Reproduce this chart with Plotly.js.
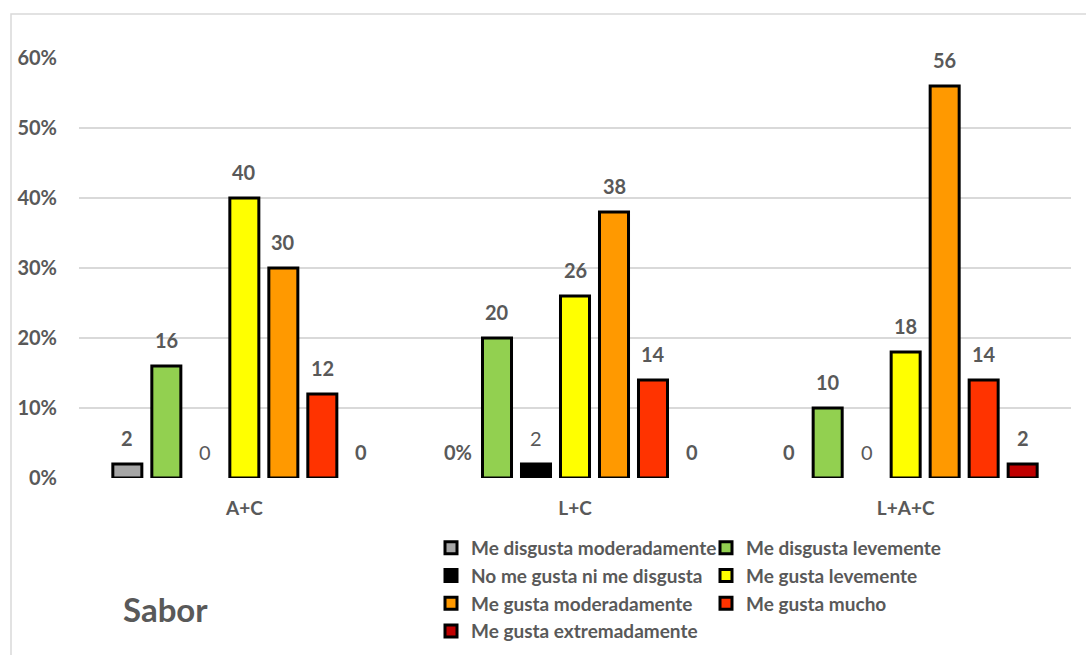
<!DOCTYPE html>
<html>
<head>
<meta charset="utf-8">
<script src="https://cdn.plot.ly/plotly-3.0.1.min.js"></script>
<style>html,body{margin:0;padding:0;background:#fff;}#chart{width:1086px;height:655px;}</style>
</head>
<body>
<div id="chart"></div>
<script>
// ---- data ----
const categories = ["A+C", "L+C", "L+A+C"];
const seriesNames = [
  "Me disgusta moderadamente",
  "Me disgusta levemente",
  "No me gusta ni me disgusta",
  "Me gusta levemente",
  "Me gusta moderadamente",
  "Me gusta mucho",
  "Me gusta extremadamente"
];
const disgustaModeradamente = [2, 0, 0];
const disgustaLevemente = [16, 20, 10];
const niGustaNiDisgusta = [0, 2, 0];
const gustaLevemente = [40, 26, 18];
const gustaModeradamente = [30, 38, 56];
const gustaMucho = [12, 14, 14];
const gustaExtremadamente = [0, 0, 2];
const yTicks = [0, 10, 20, 30, 40, 50, 60];
const yTickLabels = ["0%", "10%", "20%", "30%", "40%", "50%", "60%"];
// label text overrides (as printed in the reference)
const labelOverrides = {"0-1": "0%"};

// ---- styling ----
const seriesValues = [disgustaModeradamente, disgustaLevemente, niGustaNiDisgusta,
  gustaLevemente, gustaModeradamente, gustaMucho, gustaExtremadamente];
const colors = ["#A6A6A6", "#92D050", "#000000", "#FFFF00", "#FF9900", "#FF3300", "#C00000"];
const legendOf = ["legend", "legend2", "legend", "legend2", "legend", "legend2", "legend"];
const boldLabel = [true, true, false, true, true, true, true];
const FONT = "Lato, 'Open Sans', sans-serif";
const TXT = "#595959";
const BARGAP = 0.1744;
const slot = (1 - BARGAP) / seriesNames.length;

const traces = seriesNames.map((name, s) => ({
  type: "bar",
  name: name,
  x: categories,
  // zero-valued bars are not drawn in the reference (only their labels)
  y: seriesValues[s].map(v => (v === 0 ? null : v)),
  marker: {color: colors[s], line: {color: "#000000", width: 3}},
  legend: legendOf[s],
  hoverinfo: "skip"
}));

const annotations = [];
seriesValues.forEach((vals, s) => {
  vals.forEach((v, i) => {
    const key = s + "-" + i;
    annotations.push({
      xref: "x", yref: "y",
      x: i + (s - (seriesNames.length - 1) / 2) * slot,
      y: v,
      text: labelOverrides[key] !== undefined ? labelOverrides[key] : String(v),
      showarrow: false,
      yanchor: "middle",
      yshift: 26,
      font: {family: FONT, size: 20, color: TXT, weight: boldLabel[s] ? 700 : 400}
    });
  });
});

const layout = {
  width: 1086, height: 655,
  paper_bgcolor: "#ffffff", plot_bgcolor: "#ffffff",
  margin: {l: 79, r: 15, t: 58, b: 177, autoexpand: false},
  barmode: "group",
  bargap: BARGAP,
  bargroupgap: 0.256,
  title: {
    text: "Sabor",
    font: {family: FONT, size: 33, color: TXT, weight: 700},
    x: 123 / 1086, xanchor: "left", xref: "container",
    y: 1 - 610 / 655, yanchor: "middle", yref: "container"
  },
  xaxis: {
    type: "category",
    showgrid: false, zeroline: false, showline: false,
    ticks: "",
    ticklabelstandoff: 17,
    tickfont: {family: FONT, size: 19, color: TXT, weight: 700},
    fixedrange: true
  },
  yaxis: {
    range: [0, 60],
    tickmode: "array",
    tickvals: yTicks,
    ticktext: yTickLabels,
    showgrid: true, gridcolor: "#D9D9D9", gridwidth: 1.5,
    zeroline: false, showline: false,
    ticks: "",
    ticklabelstandoff: 21,
    tickfont: {family: FONT, size: 20, color: TXT, weight: 700},
    fixedrange: true
  },
  showlegend: true,
  legend: {
    orientation: "v",
    x: (431 - 79) / 992, xanchor: "left",
    y: (478 - 529) / 420, yanchor: "top",
    font: {family: FONT, size: 19, color: TXT, weight: 700},
    bgcolor: "rgba(0,0,0,0)",
    traceorder: "normal"
  },
  legend2: {
    orientation: "v",
    x: (706 - 79) / 992, xanchor: "left",
    y: (478 - 529) / 420, yanchor: "top",
    font: {family: FONT, size: 19, color: TXT, weight: 700},
    bgcolor: "rgba(0,0,0,0)",
    traceorder: "normal"
  },
  annotations: annotations,
  shapes: [{
    type: "rect", xref: "paper", yref: "paper",
    x0: (11 - 79) / 992, x1: (1100 - 79) / 992,
    y0: (478 - 700) / 420, y1: (478 - 14) / 420,
    line: {color: "#D9D9D9", width: 1.5},
    fillcolor: "rgba(0,0,0,0)",
    layer: "below"
  }]
};

Plotly.newPlot("chart", traces, layout, {displayModeBar: false, staticPlot: true});
</script>
</body>
</html>
